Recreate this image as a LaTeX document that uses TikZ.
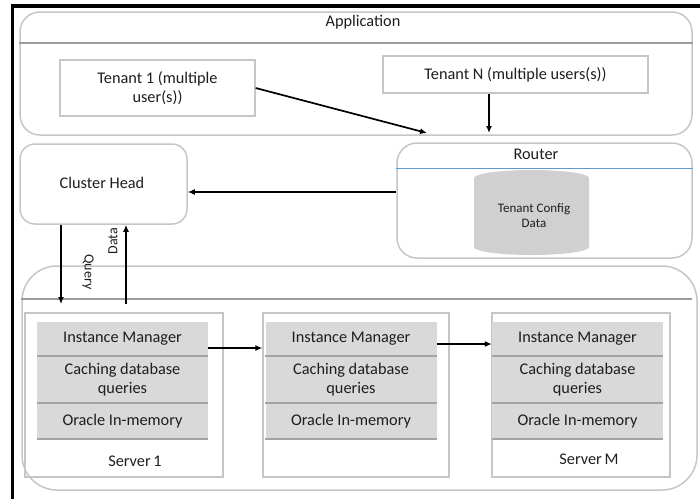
\documentclass[tikz,border=0pt]{standalone}
\usepackage{fontspec}
\setmainfont{Carlito}
\usetikzlibrary{arrows.meta}

\definecolor{edgegray}{HTML}{C6C6C6}
\definecolor{rulegray}{HTML}{9C9C9C}
\definecolor{layergray}{HTML}{D9D9D9}
\definecolor{seamgray}{HTML}{A3A3A3}
\definecolor{cylgray}{HTML}{D0D0D0}
\definecolor{ink}{HTML}{1E1E1E}
\definecolor{routerblue}{HTML}{5B9BD5}

\tikzset{
  panel/.style={draw=edgegray, line width=1.5pt, rounded corners=#1, inner sep=0pt},
  plainbox/.style={draw=edgegray, line width=1.3pt, inner sep=0pt, align=center, text=ink},
  layerbox/.style={fill=layergray, minimum width=171pt, inner sep=0pt, align=center, text=ink},
  seam/.style={draw=seamgray, line width=2pt},
  divider/.style={draw=rulegray, line width=1.2pt},
  link/.style={-{Latex[length=7pt,width=6pt]}, line width=1.7pt},
  tag/.style={text=ink, inner sep=1pt}
}

\begin{document}
\begin{tikzpicture}[x=1pt, y=-1pt, font=\fontsize{16.3}{19}\selectfont]
  \useasboundingbox (0,0) rectangle (700,499);
  \draw[line width=3.5pt] (12.3,499) -- (12.3,6) -- (700,6);

  % application layer with the tenants
  \node[panel=20pt, minimum width=672pt, minimum height=123pt] (app) at (356,73.5) {};
  \draw[divider] (app.west |- 0,43) -- (app.east |- 0,43);
  \node[tag] (apptitle) at (363,22) {Application};
  \node[plainbox, minimum width=195pt, minimum height=56pt] (t1) at (157.5,88) {Tenant 1 (multiple\\user(s))};
  \node[plainbox, minimum width=265pt, minimum height=37pt] (tN) at (515.5,74.5) {Tenant N (multiple users(s))};

  % cluster head and router
  \node[panel=15pt, minimum width=167pt, minimum height=80pt] (ch) at (103.5,184) {};
  \node[tag] at (102,183) {Cluster Head};
  \node[panel=20pt, minimum width=295pt, minimum height=115pt] (router) at (544.5,200.5) {};
  \draw[routerblue, line width=0.8pt] (router.west |- 0,168) -- (router.east |- 0,168);
  \node[tag] (routertitle) at (536,154) {Router};
  \fill[cylgray] (474,178) arc[start angle=180, end angle=360, x radius=57.5, y radius=8]
    -- (589,247) arc[start angle=0, end angle=180, x radius=57.5, y radius=8] -- cycle;
  \node[tag, align=center, font=\fontsize{13}{15}\selectfont] (cfg) at (534,216) {Tenant Config\\Data};

  % cluster of servers
  \node[panel=35pt, minimum width=675pt, minimum height=224pt] (cluster) at (359.5,378) {};
  \draw[divider] (cluster.west |- 0,299) -- ([xshift=-6pt]cluster.east |- 0,299);
  \foreach \n/\bx/\bw/\sx in {1/124/198/122.5, 2/356/186/351, m/581/178/577.5} {
    \node[plainbox, minimum width=\bw pt, minimum height=164pt] (srv\n) at (\bx,395) {};
    \node[layerbox, minimum height=34pt] (im\n) at (\sx,339) {Instance Manager};
    \node[layerbox, minimum height=46pt] (cq\n) at (\sx,380) {Caching database\\queries};
    \node[layerbox, minimum height=35pt] (or\n) at (\sx,421.5) {Oracle In-memory};
    \foreach \l in {im,cq,or}
      \draw[seam] (\l\n.south west) -- (\l\n.south east);
  }
  \node[tag] (s1label) at (135,461) {Server\,1};
  \node[tag] (smlabel) at (589,459) {Server\,M};

  % connectors
  \coordinate (in1) at (427,133);
  \coordinate (inN) at (489,133);
  \coordinate (q) at (61,304);
  \coordinate (d) at (126,304);
  \draw[link] (t1.east) -- (in1);
  \draw[link] (tN.south -| inN) -- (inN);
  \draw[link] (router.west |- 0,192) -- (ch.east |- 0,192);
  \draw[link] (ch.south -| q) -- (q);
  \draw[link] (d) -- (ch.south -| d);
  \node[tag, rotate=-90, font=\fontsize{14}{16}\selectfont] (ql) at (88,272) {Query};
  \node[tag, rotate=90, font=\fontsize{14}{16}\selectfont] (dl) at (113,241) {Data};
  \draw[link] (im1.east |- 0,348) -- (srv2.west |- 0,348);
  \draw[link] (im2.east |- 0,344) -- (imm.west |- 0,344);
\end{tikzpicture}
\end{document}
